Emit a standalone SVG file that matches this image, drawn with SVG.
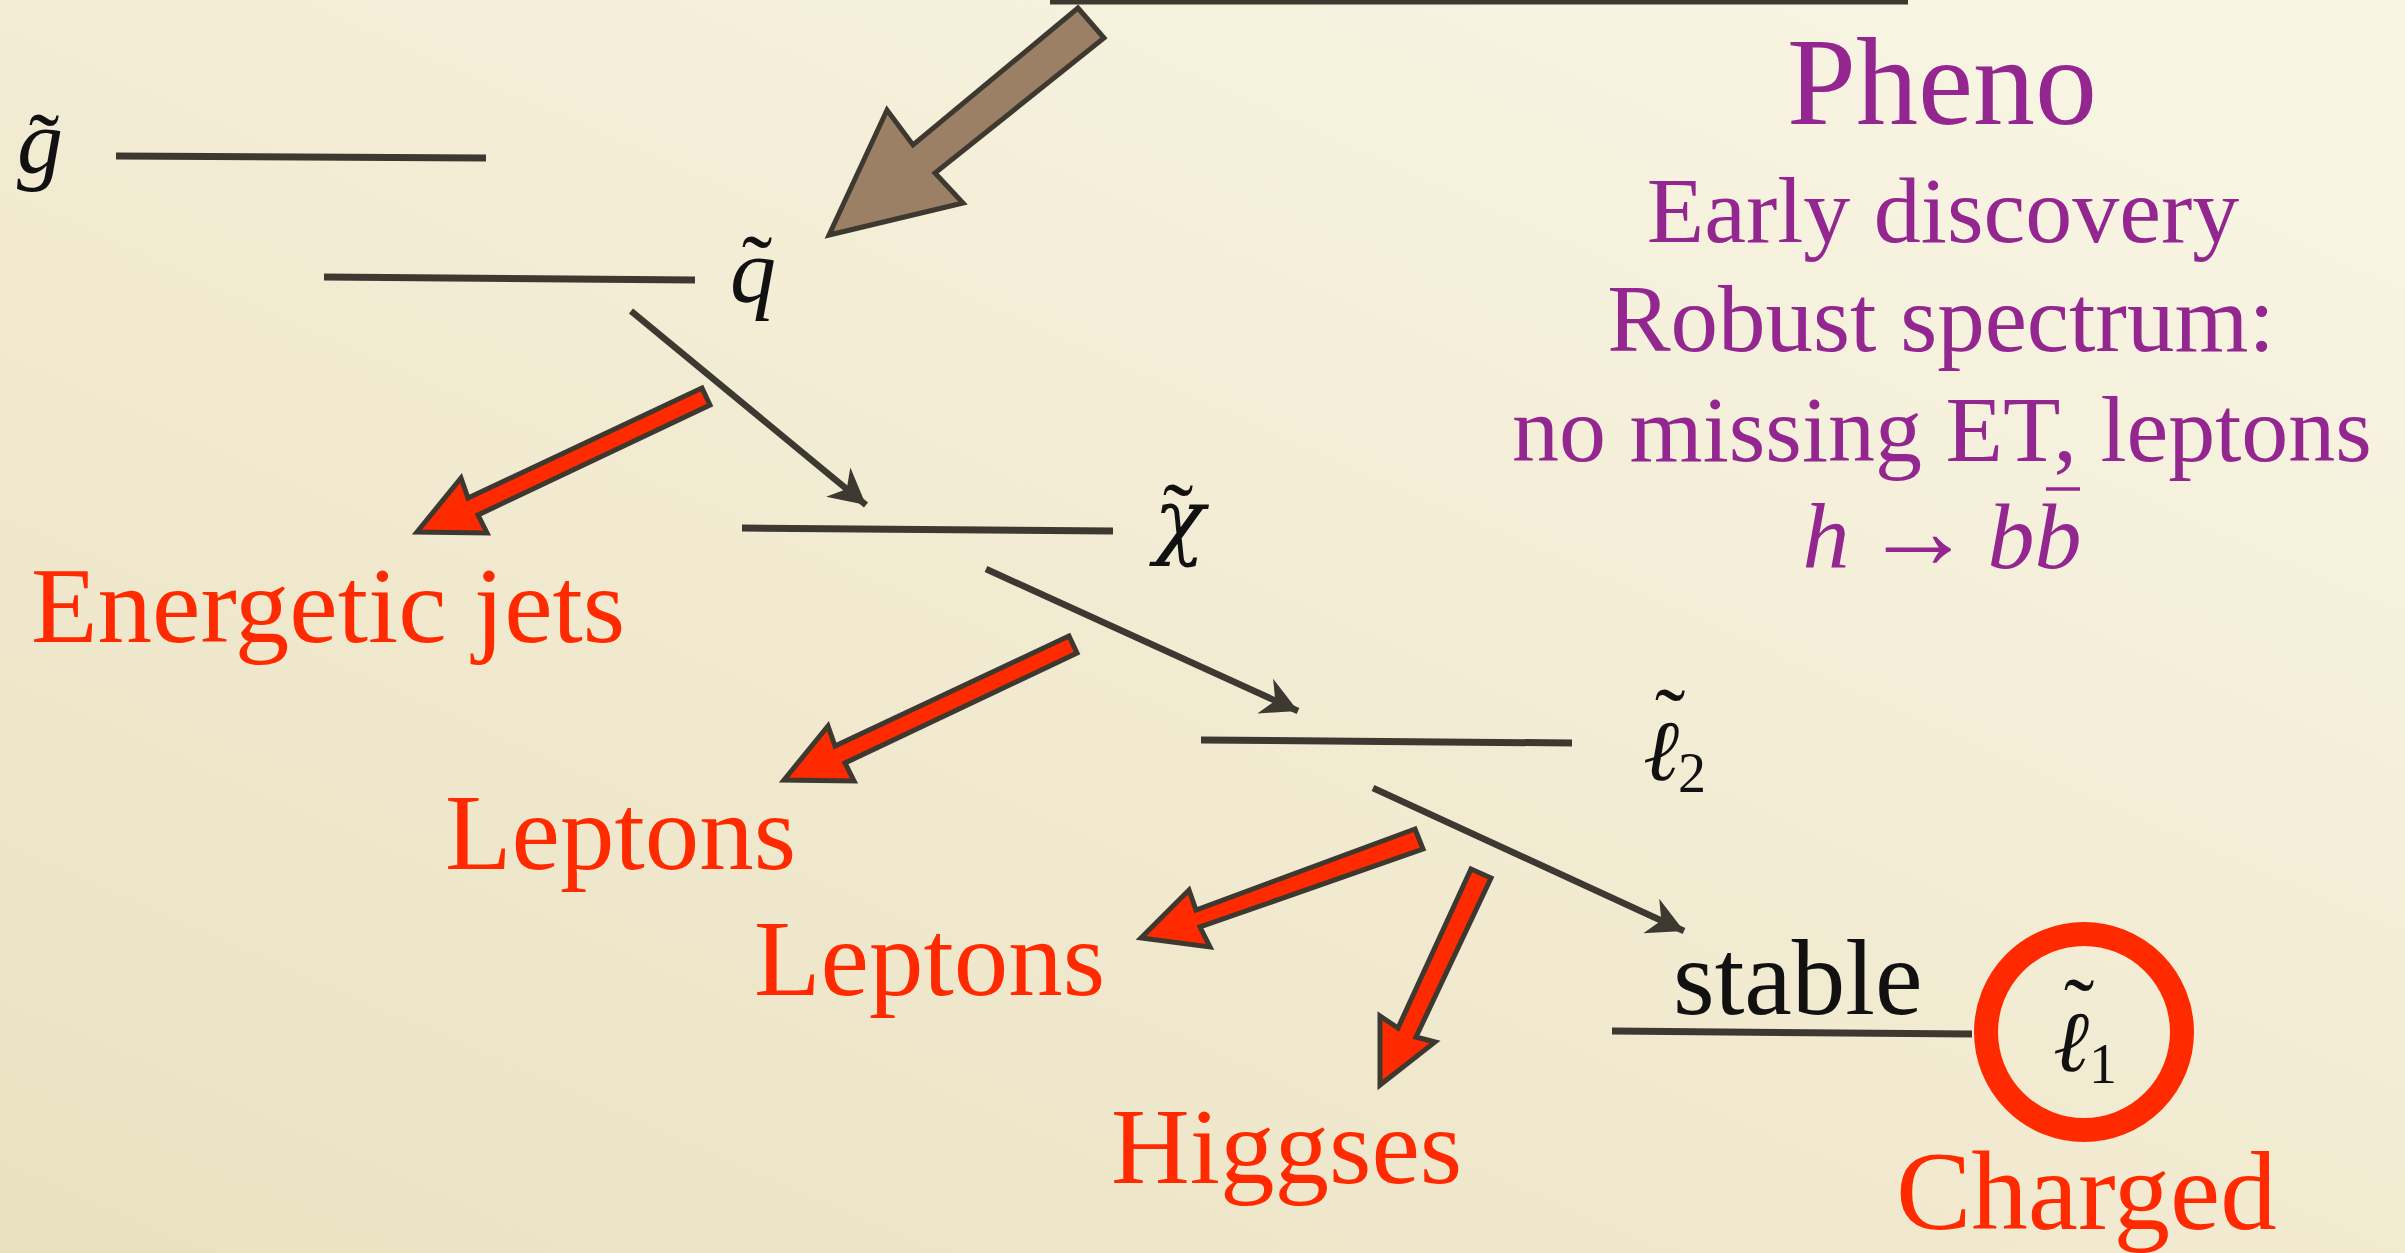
<svg xmlns="http://www.w3.org/2000/svg" width="2405" height="1253" viewBox="0 0 2405 1253">
<defs>
<linearGradient id="bg" x1="0" y1="1" x2="0.85" y2="0">
<stop offset="0" stop-color="#eae1c0"/>
<stop offset="1" stop-color="#f9f5e4"/>
</linearGradient>
<marker id="head" markerUnits="userSpaceOnUse" markerWidth="44" markerHeight="44" viewBox="-40 -22 44 44" refX="0" refY="0" orient="auto">
<path d="M0,0 L-36,-19 L-25,0 L-36,19 Z" fill="#3d3930"/>
</marker>
<style>
.lvl{stroke:#3d3930;stroke-width:7;fill:none}
.conn{stroke:#3d3930;stroke-width:6.5;fill:none}
.red{fill:#ff2a00;stroke:#3d3930;stroke-width:5;stroke-linejoin:miter}
.brown{fill:#9c8066;stroke:#3d3930;stroke-width:5}
.math{font-family:"Liberation Serif",serif;font-style:italic;font-size:92px;fill:#111}
.dv{font-family:"DejaVu Serif",serif}
.tl{font-family:"Liberation Serif",serif;font-style:normal;text-anchor:middle;font-size:92px}
.sub{font-family:"Liberation Serif",serif;font-style:normal;font-size:56px}
.rt{font-family:"Liberation Serif",serif;font-size:109px;fill:#ff2a00}
.pt{font-family:"Liberation Serif",serif;font-size:94px;fill:#93278f;text-anchor:middle}
</style>
</defs>
<rect width="2405" height="1253" fill="url(#bg)"/>

<g id="top-level"><line x1="1050" y1="0" x2="1908" y2="0" stroke="#3d3930" stroke-width="9"/></g>

<g id="gluino">
<line class="lvl" x1="116" y1="156" x2="486" y2="158"/>
<text class="math"><tspan x="17" y="173">g</tspan><tspan class="tl" x="44" y="176">˜</tspan></text>
</g>

<g id="squark">
<line class="lvl" x1="324" y1="277" x2="695" y2="280"/>
<text class="math"><tspan x="730" y="302">q</tspan><tspan class="tl" x="757" y="298">˜</tspan></text>
</g>

<g id="neutralino">
<line class="lvl" x1="742" y1="528" x2="1113" y2="531"/>
<text class="math"><tspan class="dv" x="1154" y="548" style="font-size:84px">χ</tspan><tspan class="tl" x="1178" y="546">˜</tspan></text>
</g>

<g id="slepton2">
<line class="lvl" x1="1201" y1="740" x2="1572" y2="743"/>
<text class="math"><tspan class="dv" x="1643" y="780" style="font-size:86px">ℓ</tspan><tspan class="tl" x="1670" y="751">˜</tspan><tspan class="sub" x="1678" y="792">2</tspan></text>
</g>

<g id="slepton1">
<line class="lvl" x1="1612" y1="1031" x2="1972" y2="1034"/>
<text x="1673" y="1014" font-family="Liberation Serif, serif" font-size="107" fill="#111">stable</text>
<circle cx="2084" cy="1032" r="98" fill="none" stroke="#ff2a00" stroke-width="24"/>
<text class="math"><tspan class="dv" x="2053" y="1071" style="font-size:86px">ℓ</tspan><tspan class="tl" x="2079" y="1041">˜</tspan><tspan class="sub" x="2089" y="1083">1</tspan></text>
<text class="rt" x="1896" y="1229" style="font-size:113px">Charged</text>
</g>

<g id="pheno">
<text class="pt" x="1942" y="124" style="font-size:124px">Pheno</text>
<text class="pt" x="1943" y="242">Early discovery</text>
<text class="pt" x="1941" y="351" style="font-size:95px">Robust spectrum:</text>
<text class="pt" x="1942" y="461">no missing ET, leptons</text>
<text class="pt" x="1942" y="568"><tspan font-style="italic">h</tspan><tspan dx="14" style="font-size:110px">→</tspan><tspan dx="14" font-style="italic">bb</tspan></text>
<line x1="2046" y1="489" x2="2080" y2="489" stroke="#93278f" stroke-width="3.5"/>
</g>

<g id="products">
<text class="rt" x="31" y="642">Energetic jets</text>
<text class="rt" x="445" y="869">Leptons</text>
<text class="rt" x="754" y="995">Leptons</text>
<text class="rt" x="1111" y="1183">Higgses</text>
</g>

<g id="connectors">
<polygon class="brown" points="1078,8 913,145 887,110 829,235 963,203 935,173 1104,38"/>
<line class="conn" x1="631" y1="311" x2="866" y2="505" marker-end="url(#head)"/>
<line class="conn" x1="986" y1="569" x2="1298" y2="711" marker-end="url(#head)"/>
<line class="conn" x1="1373" y1="788" x2="1684" y2="931" marker-end="url(#head)"/>
<polygon class="red" points="702,388 468,498 461,478 417,532 487,533 478,515 710,405"/>
<polygon class="red" points="1069,636 835,746 828,726 784,780 854,781 845,763 1077,653"/>
<polygon class="red" points="1415,829 1196,910 1189,890 1141,938 1210,947 1200,927 1423,849"/>
<polygon class="red" points="1471,869 1398,1028 1380,1016 1380,1085 1435,1042 1416,1037 1491,878"/>
</g>
</svg>
